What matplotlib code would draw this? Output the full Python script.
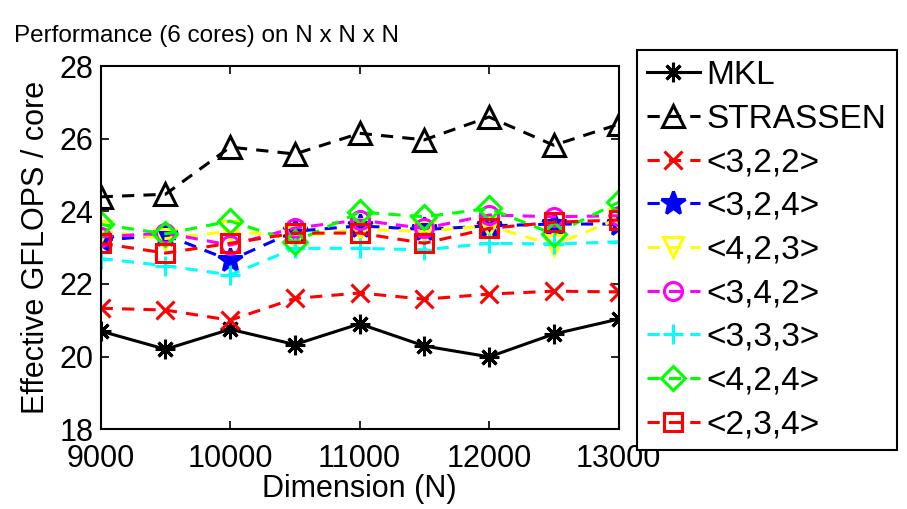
import matplotlib
matplotlib.use("Agg")
import matplotlib.pyplot as plt

# dimensions N
dims = [9000, 9500, 10000, 10500, 11000, 11500, 12000, 12500, 13000]

# effective GFLOPS / core
mkl = [20.70, 20.20, 20.75, 20.33, 20.90, 20.29, 19.99, 20.62, 21.03]
strassen = [24.40, 24.47, 25.77, 25.58, 26.15, 25.97, 26.60, 25.82, 26.40]
a322 = [21.33, 21.28, 21.00, 21.60, 21.75, 21.58, 21.72, 21.80, 21.78]
a324 = [23.20, 23.35, 22.65, 23.45, 23.60, 23.50, 23.60, 23.65, 23.65]
a423 = [23.45, 23.25, 23.45, 23.30, 23.50, 23.45, 23.60, 23.07, 23.80]
a342 = [23.30, 23.40, 23.07, 23.54, 23.76, 23.53, 23.90, 23.85, 23.88]
a333 = [22.70, 22.50, 22.25, 22.98, 22.98, 22.94, 23.12, 23.10, 23.16]
a424 = [23.64, 23.38, 23.73, 23.16, 23.98, 23.85, 24.08, 23.37, 24.25]
a234 = [23.12, 22.85, 23.12, 23.40, 23.40, 23.12, 23.53, 23.70, 23.76]

labels = ["MKL", "STRASSEN", "<3,2,2>", "<3,2,4>", "<4,2,3>",
          "<3,4,2>", "<3,3,3>", "<4,2,4>", "<2,3,4>"]

plt.rcParams['font.family'] = ['Liberation Sans', 'DejaVu Sans']

fig = plt.figure(figsize=(9.07, 5.09), dpi=100)
ax = fig.add_axes([0.111, 0.157, 0.571, 0.713])

dash = (0, (4, 3))
lw = 2.2

# (series, colour, marker, marker size, linestyle, filled)
styles = [
    (mkl, 'black', (8, 2, 0), 14, '-', True),
    (strassen, 'black', '^', 16, dash, False),
    (a322, 'red', 'x', 13, dash, True),
    (a324, 'blue', '*', 18, dash, True),
    (a423, 'yellow', 'v', 15, dash, False),
    (a342, 'magenta', 'o', 13, dash, False),
    (a333, 'cyan', '+', 15, dash, True),
    (a424, '#00ff00', 'D', 12, dash, False),
    (a234, 'red', 's', 13, dash, False),
]

for (vals, col, mk, size, ls, filled), lab in zip(styles, labels):
    ax.plot(dims, vals, color=col, linestyle=ls, linewidth=lw,
            marker=mk, markersize=size, markeredgewidth=2.2,
            markerfacecolor=col if filled else 'none',
            markeredgecolor=col, label=lab)

ax.set_xlim(9000, 13000)
ax.set_ylim(18, 28)
ax.set_xticks([9000, 10000, 11000, 12000, 13000])
ax.set_yticks([18, 20, 22, 24, 26, 28])
ax.tick_params(direction='in', top=True, right=True, length=6, width=1.2,
               labelsize=22)
ax.tick_params(axis='y', pad=5)
ax.tick_params(axis='x', pad=11)
for sp in ax.spines.values():
    sp.set_linewidth(1.5)

ax.set_xlabel("Dimension (N)", fontsize=22, labelpad=0)
ax.set_ylabel("Effective GFLOPS / core", fontsize=22, labelpad=6)
fig.text(207 / 907, 1 - 42 / 509, "Performance (6 cores) on N x N x N",
         fontsize=17.5, ha='center', va='baseline')

leg = fig.legend(loc='upper left', bbox_to_anchor=(0.702, 0.902),
                 fontsize=24, frameon=True, fancybox=False, framealpha=1,
                 edgecolor='black', handlelength=1.6, handletextpad=0.2,
                 labelspacing=0.38, borderpad=0.3, borderaxespad=0)
leg.get_frame().set_linewidth(1.5)

fig.savefig("out.png", dpi=100)
